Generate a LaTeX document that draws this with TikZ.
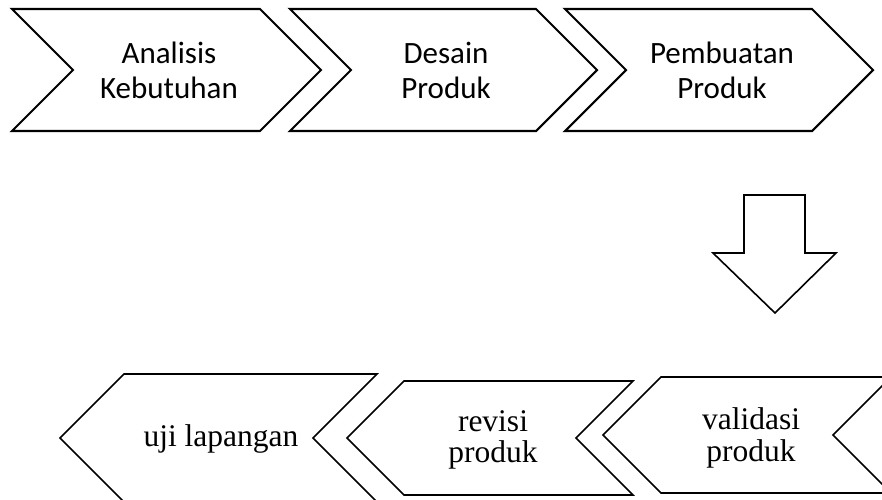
\documentclass[tikz,border=0pt]{standalone}
\usepackage{fontspec}
\newfontfamily\calibrifont{Carlito}
\newfontfamily\timesfont{Liberation Serif}

\begin{document}
\begin{tikzpicture}[x=1pt, y=-1pt,
    chev/.style={draw, fill=white, line width=1.6pt, line join=miter},
    thickchev/.style={chev, line width=2.1pt},
    toplabel/.style={font=\calibrifont\fontsize{31}{35}\selectfont, align=center, inner sep=0pt},
    botlabel/.style={font=\timesfont\fontsize{31.5}{31.5}\selectfont, align=center, inner sep=0pt}]
            \clip (0,0) rectangle (882,499);

            % Top row chevrons (pointing right)
            \draw[thickchev] (12,9) -- (260,9) -- (321,70) -- (260,131) -- (12,131) -- (73,70) -- cycle;
            \draw[thickchev] (290,9) -- (536,9) -- (597,70) -- (536,131) -- (290,131) -- (351,70) -- cycle;
            \draw[thickchev] (565,9) -- (812,9) -- (873,70) -- (812,131) -- (565,131) -- (626,70) -- cycle;

            \node[toplabel] (ana) at (169,70) {Analisis\\Kebutuhan};
            \node[toplabel] (des) at (446,70) {Desain\\Produk};
            \node[toplabel] (pem) at (722,70) {Pembuatan\\Produk};

            % Down arrow
            \draw[chev] (744,195) -- (805,195) -- (805,253) -- (836,253) -- (775,313)
                -- (713,253) -- (744,253) -- cycle;

            % Bottom row chevrons (pointing left)
            \draw[chev] (60,438) -- (124,374) -- (377,374) -- (313,438) -- (377,502) -- (124,502) -- cycle;
            \draw[chev] (347,438) -- (404,381) -- (633,381) -- (576,438) -- (633,495) -- (404,495) -- cycle;
            \draw[chev] (603,435) -- (661,377) -- (891,377) -- (833,435) -- (891,493) -- (661,493) -- cycle;

            \node[botlabel] (uji) at (221,439) {uji lapangan};
            \node[botlabel] (rev) at (493,440) {revisi\\produk};
            \node[botlabel] (val) at (751,438) {validasi\\produk};
        \end{tikzpicture}
\end{document}
